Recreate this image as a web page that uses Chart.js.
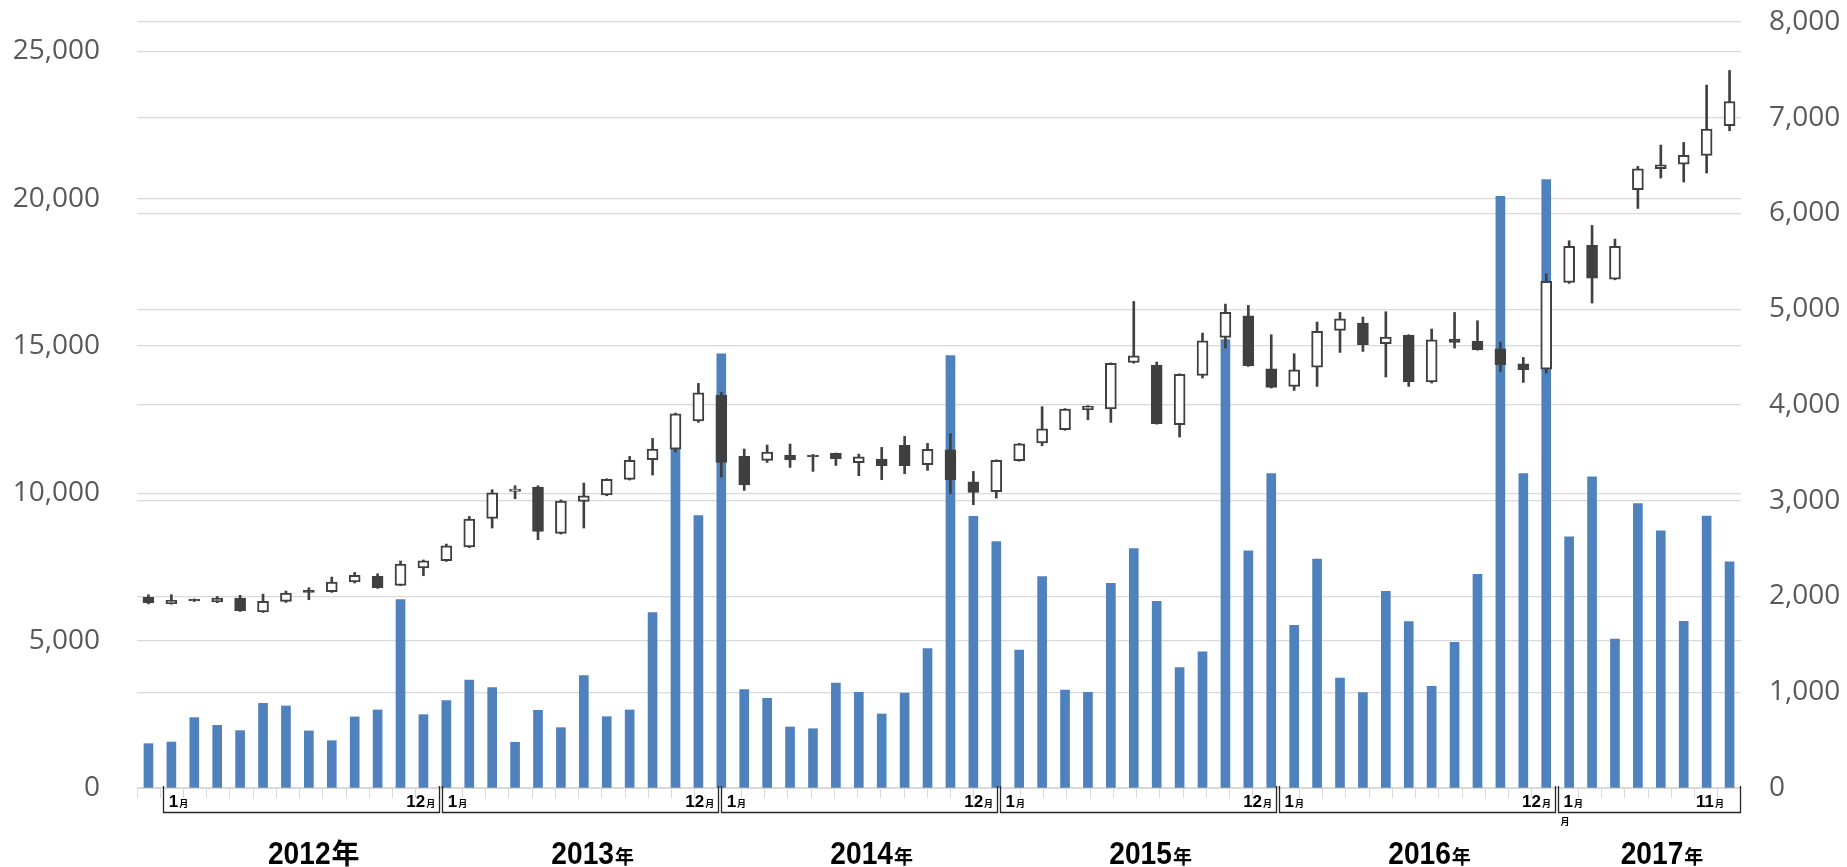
<!DOCTYPE html>
<html><head><meta charset="utf-8">
<script src="https://cdn.jsdelivr.net/npm/chart.js@4"></script>
<style>html,body{margin:0;padding:0;background:#fff;overflow:hidden}</style>
</head><body>
<canvas id="c" width="1847" height="867" style="display:block;width:1847px;height:867px"></canvas>
<script>
// ---- data (monthly candles and volume) ----
const barLabels = ['2011/12',
 '2012/01','2012/02','2012/03','2012/04','2012/05','2012/06','2012/07','2012/08','2012/09','2012/10','2012/11','2012/12',
 '2013/01','2013/02','2013/03','2013/04','2013/05','2013/06','2013/07','2013/08','2013/09','2013/10','2013/11','2013/12',
 '2014/01','2014/02','2014/03','2014/04','2014/05','2014/06','2014/07','2014/08','2014/09','2014/10','2014/11','2014/12',
 '2015/01','2015/02','2015/03','2015/04','2015/05','2015/06','2015/07','2015/08','2015/09','2015/10','2015/11','2015/12',
 '2016/01','2016/02','2016/03','2016/04','2016/05','2016/06','2016/07','2016/08','2016/09','2016/10','2016/11','2016/12',
 '2017/01','2017/02','2017/03','2017/04','2017/05','2017/06','2017/07','2017/08','2017/09'];
const opens = [6470,6255,6400,6313,6448,5973,6333,6706,6662,6991,7182,6877,7467,7714,8180,9150,10070,10216,8641,9727,9944,10474,11142,11505,12456,13325,11254,11118,11288,11300,11356,11039,11164,11629,10973,11482,10396,10056,11108,11709,12160,12840,12863,14444,14353,12330,14000,15294,16029,14230,13631,14287,15531,15782,15080,15362,13780,15239,15160,14910,14400,14219,17160,18416,17274,20305,21018,21178,21471,22478];
const highs = [6560,6560,6420,6500,6540,6580,6686,6798,7161,7318,7273,7704,7740,8281,9218,10124,10260,10260,9780,10351,10497,11254,11866,12727,13733,13427,11505,11641,11675,11320,11370,11334,11561,11934,11698,12025,10746,11140,11700,12942,12880,12980,14430,16515,14457,14060,15443,16426,16380,15386,14740,15816,16142,15985,16165,15386,15578,16142,15861,15137,14615,17455,18575,19095,18632,21098,21823,21913,23860,24356];
const lows = [6250,6240,6330,6290,5990,5960,6299,6391,6640,6958,6775,6866,7205,7691,8156,8824,9820,8427,8620,8824,9920,10453,10623,11404,12409,10555,10101,11051,10881,10746,10948,10600,10464,10667,10780,9988,9615,9842,11090,11618,12140,12500,12409,14420,12350,11912,13916,14933,14310,13576,13495,13631,14785,14819,13950,13631,13746,14933,14860,14140,13766,14085,17127,16460,17250,19672,20703,20567,20873,22309];
const closes = [6280,6370,6350,6448,6020,6333,6618,6640,6991,7216,6798,7603,7714,8223,9130,10022,10150,8709,9740,9920,10474,11118,11505,12703,13416,11051,10284,11404,11132,11250,11175,11243,10938,10938,11494,10453,10033,11118,11686,12194,12863,12965,14411,14671,12370,14045,15175,16142,14332,13597,14196,15499,15928,15046,15307,13780,15216,15126,14876,14366,14196,17194,18382,17308,18382,21018,21155,21471,22366,23303];
const volumes = [463,480,735,654,599,884,857,596,494,742,815,1968,766,912,1128,1048,477,811,630,1173,745,815,1831,3540,2845,4535,1027,936,637,619,1097,999,773,992,1455,4516,2837,2573,1441,2207,1023,999,2137,2500,1949,1257,1421,4683,2476,3283,1699,2392,1149,996,2054,1737,1062,1521,2232,6180,3283,6354,2622,3249,1556,2970,2685,1740,2841,2361];

// ---- category label axis (year groups) ----
const yearNames = ['2012年','2013年','2014年','2015年','2016年','2017年'];
const yearStart = [1,13,25,37,49,61];
const yearLength = [12,12,12,12,12,8];
const firstMonthLabel = ['1月','1月','1月','1月','1月','1月'];
const lastMonthLabel = ['12月','12月','12月','12月','12月','11月'];
const labelAxisCount = 69;

// left / right axis tick values
const leftTicks = [0,5000,10000,15000,20000,25000];
const rightTicks = [0,1000,2000,3000,4000,5000,6000,7000,8000];

const monthTickLabels = new Array(labelAxisCount).fill('');
yearStart.forEach((s,g)=>{ monthTickLabels[s] = firstMonthLabel[g]; monthTickLabels[s+yearLength[g]-1] = lastMonthLabel[g]; });

const DARK = '#404040';
const bodyData = opens.map((o,i)=>[o, closes[i]]);
const wickData = lows.map((l,i)=>[l, highs[i]]);
const bodyFill = opens.map((o,i)=> closes[i] >= o ? '#ffffff' : DARK);

function drawMixed(ctx, parts, x, y, align){
  let w = 0;
  parts.forEach(p=>{ ctx.font = p.font; p.w = ctx.measureText(p.text).width * (p.sx||1); w += p.w + (p.gap||0); });
  let cx = align === 'right' ? x - w : align === 'center' ? x - w/2 : x;
  parts.forEach(p=>{
    ctx.save(); ctx.font = p.font; ctx.translate(cx, y); ctx.scale(p.sx||1, 1);
    ctx.textAlign = 'left'; ctx.textBaseline = 'alphabetic'; ctx.fillText(p.text, 0, 0); ctx.restore();
    cx += p.w + (p.gap||0);
  });
}

const axisLabelPlugin = {
  id: 'axisLabels',
  afterDraw(chart){
    const xl = chart.scales.xl, ctx = chart.ctx;
    const cw = (xl.right - xl.left) / labelAxisCount;
    const bx = i => xl.left + i*cw;
    const ay = xl.top;
    ctx.save();
    ctx.strokeStyle = '#262626'; ctx.lineWidth = 1.3;
    yearStart.forEach((s,g)=>{
      const l = Math.round(bx(s)+3)+0.5, r = Math.min(Math.round(bx(s+yearLength[g]))+0.5, xl.right-0.5);
      ctx.beginPath(); ctx.moveTo(l, ay-2); ctx.lineTo(l, ay+24.5); ctx.lineTo(r, ay+24.5); ctx.lineTo(r, ay-2); ctx.stroke();
    });
    ctx.fillStyle = '#000';
    const DIG = 'bold 17px "Liberation Sans", Arial, sans-serif';
    const TSU = 'bold 9px "Noto Sans CJK JP", sans-serif';
    monthTickLabels.forEach((t,i)=>{
      if(!t) return;
      const parts = [{text: t.replace('月',''), font: DIG, gap: 1},{text:'月', font: TSU}];
      const g = yearStart.indexOf(i);
      if (g >= 0) drawMixed(ctx, parts, bx(i)+8.5, ay+19.3, 'left');
      else {
        const inset = (i === labelAxisCount-1) ? 17 : 4;
        drawMixed(ctx, parts, bx(i+1)-inset, ay+19.3, 'right');
      }
    });
    drawMixed(ctx, [{text:'月', font: TSU}], bx(yearStart[5])+5.5, ay+37, 'left');
    yearNames.forEach((name,g)=>{
      const s = yearStart[g], e = s + yearLength[g];
      const cx = (bx(s)+bx(e))/2 + 14;
      const nenFont = g === 0 ? 'bold 28px "Noto Sans CJK JP", sans-serif' : 'bold 19px "Noto Sans CJK JP", sans-serif';
      drawMixed(ctx, [
        {text: name.replace('年',''), font: 'bold 32px "Liberation Sans", Arial, sans-serif', sx: 0.88, gap: 1},
        {text: '年', font: nenFont}
      ], cx, ay+76, 'center');
    });
    ctx.restore();
  }
};

const tickFont = {family: '"Open Sans", "Noto Sans", sans-serif', size: 28};
function fixVPad(s, width){ s.width = width; s.paddingTop = 12; s.paddingBottom = 12; }

new Chart(document.getElementById('c'), {
  data: {
    labels: barLabels,
    datasets: [
      {type:'bar', label:'body', data: bodyData, xAxisID:'x', yAxisID:'yL', backgroundColor: bodyFill,
       borderColor: DARK, borderWidth: 2, borderSkipped: false, barThickness: 11, grouped: false, order: 0},
      {type:'bar', label:'wick', data: wickData, xAxisID:'x', yAxisID:'yL', backgroundColor: DARK,
       borderWidth: 0, barThickness: 2, grouped: false, order: 1},
      {type:'bar', label:'volume', data: volumes, xAxisID:'x', yAxisID:'yR', backgroundColor: '#4f81bd',
       borderWidth: 0, barThickness: 9, grouped: false, order: 2}
    ]
  },
  options: {
    responsive: false, devicePixelRatio: 1, animation: false,
    layout: {padding: {top: 22, left: 0, right: 0, bottom: 0}},
    plugins: {legend: {display: false}, tooltip: {enabled: false}},
    scales: {
      x: {type:'category', display: false, offset: true},
      xl: {type:'category', labels: monthTickLabels, position:'bottom', offset: true,
           grid: {offset: true, drawOnChartArea: false, drawTicks: true, tickLength: 10, color:'#d9d9d9', lineWidth: 1},
           border: {display: true, color:'#d9d9d9'},
           ticks: {display: false, autoSkip: false},
           afterFit(s){ s.height = 79; s.paddingLeft = 0; s.paddingRight = 0; }},
      yL: {type:'linear', position:'left', min: 0, max: 26000,
           ticks: {stepSize: 5000, color:'#595959', font: tickFont, padding: 37, callback: v => v.toLocaleString('en-US')},
           afterBuildTicks(s){ s.ticks = leftTicks.map(v=>({value: v})); },
           grid: {color:'#d9d9d9', lineWidth: 1.2, drawTicks: false},
           border: {display: false},
           afterFit(s){ fixVPad(s, 137); }},
      yR: {type:'linear', position:'right', min: 0, max: 8000,
           ticks: {stepSize: 1000, color:'#595959', font: tickFont, padding: 28, callback: v => v.toLocaleString('en-US')},
           afterBuildTicks(s){ s.ticks = rightTicks.map(v=>({value: v})); },
           grid: {color:'#d9d9d9', lineWidth: 1.2, drawTicks: false},
           border: {display: false},
           afterFit(s){ fixVPad(s, 106); }}
    }
  },
  plugins: [axisLabelPlugin]
});
</script></body></html>
